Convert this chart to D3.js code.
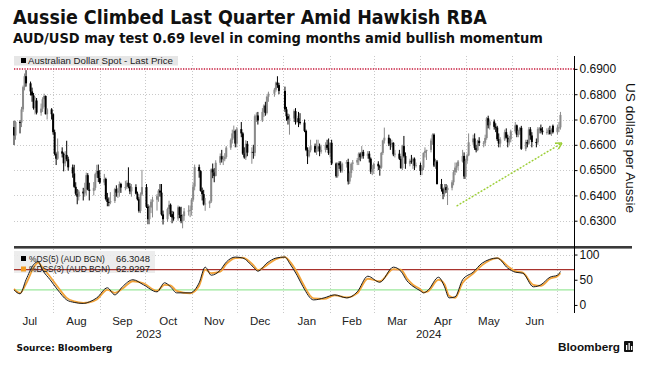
<!DOCTYPE html>
<html><head><meta charset="utf-8">
<script src="https://cdn.jsdelivr.net/npm/d3@7"></script>
<style>
body{margin:0;background:#fff;}
svg{display:block;font-family:"DejaVu Sans","Liberation Sans",Arial,sans-serif;}
</style></head><body>
<svg id="c" width="649" height="366"></svg>
<script>
// ---------------- DATA ----------------
const firstDay = "2023-07-06", lastDay = "2024-07-03";
const holidays = ["2023-12-25", "2024-01-01"];
const priceTitle = "Aussie Climbed Last Quarter Amid Hawkish RBA";
const priceSubtitle = "AUD/USD may test 0.69 level in coming months amid bullish momentum";
const opens = [
.6670,.6637,
.6690,.6688,.6740,.6828,.6871,
.6843,.6811,.6795,.6745,.6775,
.6727,.6743,.6780,.6793,.6721,
.6740,.6721,.6650,.6564,.6545,
.6574,.6565,.6527,.6560,.6543,
.6511,.6487,.6434,.6407,.6395,
.6415,.6408,.6424,.6480,.6423,
.6418,.6430,.6484,.6497,.6469,
.6451,.6465,.6386,.6374,.6372,
.6378,.6425,.6411,.6418,.6445,
.6431,.6433,.6450,.6435,.6416,
.6433,.6407,.6385,.6339,.6404,
.6433,.6356,.6306,.6352,.6375,
.6383,.6397,.6419,.6411,.6325,
.6306,.6346,.6363,.6326,.6313,
.6309,.6353,.6323,.6298,.6318,
.6337,.6340,.6343,.6383,.6435,
.6512,.6496,.6418,.6405,.6364,
.6368,.6376,.6503,.6491,.6477,
.6529,.6555,.6542,.6543,.6552,
.6589,.6619,.6645,.6655,.6605,
.6662,.6645,.6565,.6550,.6604,
.6569,.6572,.6568,.6713,.6716,
.6696,.6730,.6755,.6726,.6790,
.6802,.6818,.6846,.6836,
.6813,.6740,.6713,.6700,
.6704,.6733,.6690,.6705,.6690,
.6688,.6655,.6580,.6555,.6578,
.6595,.6572,.6584,.6594,.6573,
.6580,.6600,.6588,.6567,.6608,
.6526,.6476,.6527,.6519,.6497,
.6525,.6532,.6455,.6488,.6525,
.6530,.6540,.6565,.6551,.6572,
.6556,.6565,.6545,.6494,.6505,
.6525,.6515,.6510,.6568,.6617,
.6628,.6605,.6602,.6608,.6562,
.6565,.6545,.6508,.6595,.6556,
.6525,.6537,.6535,.6545,.6517,
.6520,.6497,.6510,.6568,.6575,
.6580,.6617,.6640,.6518,.6534,
.6445,.6425,.6406,.6432,.6421,
.6430,.6452,.6492,.6510,.6516,
.6534,.6556,.6475,.6537,.6558,
.6610,.6625,.6588,.6579,.6616,
.6607,.6608,.6627,.6705,.6677,
.6692,.6671,.6668,.6622,.6605,
.6621,.6650,.6628,.6610,.6622,
.6653,.6677,.6640,.6654,.6667,
.6584,.6611,.6605,.6661,.6637,
.6611,.6610,.6663,.6665,.6656,
.6650,.6651,.6658,.6643,.6675,
.6650,.6668,.6669];
const highs = [
.6695,.6695,
.6697,.6750,.6834,.6882,.6895,
.6850,.6826,.6805,.6790,.6785,
.6763,.6788,.6802,.6795,.6745,
.6745,.6724,.6660,.6570,.6625,
.6590,.6570,.6575,.6616,.6553,
.6522,.6521,.6452,.6425,.6422,
.6430,.6450,.6490,.6488,.6450,
.6453,.6490,.6521,.6522,.6500,
.6485,.6470,.6410,.6392,.6413,
.6430,.6440,.6430,.6455,.6450,
.6458,.6460,.6511,.6448,.6445,
.6444,.6415,.6393,.6412,.6501,
.6445,.6365,.6360,.6385,.6395,
.6405,.6425,.6445,.6445,.6340,
.6352,.6379,.6368,.6339,.6336,
.6360,.6356,.6355,.6325,.6350,
.6361,.6360,.6390,.6450,.6522,
.6522,.6500,.6431,.6422,.6390,
.6380,.6507,.6526,.6508,.6539,
.6566,.6580,.6557,.6567,.6595,
.6625,.6660,.6676,.6660,.6670,
.6690,.6650,.6590,.6618,.6615,
.6590,.6600,.6720,.6728,.6730,
.6745,.6760,.6770,.6795,.6810,
.6825,.6850,.6871,.6845,
.6830,.6750,.6723,.6720,
.6740,.6745,.6715,.6730,.6725,
.6700,.6660,.6590,.6590,.6620,
.6605,.6620,.6620,.6605,.6600,
.6610,.6620,.6625,.6610,.6620,
.6530,.6530,.6535,.6535,.6530,
.6540,.6545,.6495,.6530,.6540,
.6548,.6570,.6570,.6595,.6580,
.6575,.6575,.6550,.6520,.6530,
.6535,.6520,.6572,.6620,.6668,
.6640,.6625,.6620,.6610,.6580,
.6580,.6555,.6600,.6635,.6570,
.6545,.6560,.6550,.6550,.6530,
.6530,.6515,.6570,.6590,.6580,
.6625,.6645,.6645,.6545,.6540,
.6465,.6430,.6445,.6445,.6440,
.6460,.6500,.6530,.6530,.6540,
.6580,.6570,.6545,.6565,.6645,
.6640,.6645,.6600,.6620,.6630,
.6615,.6640,.6710,.6715,.6700,
.6700,.6685,.6675,.6645,.6630,
.6660,.6665,.6640,.6635,.6660,
.6690,.6680,.6660,.6670,.6675,
.6620,.6620,.6670,.6670,.6650,
.6625,.6670,.6670,.6680,.6670,
.6665,.6668,.6675,.6665,.6680,
.6680,.6690,.6730];
const lows = [
.6599,.6620,
.6645,.6670,.6730,.6815,.6830,
.6795,.6770,.6739,.6720,.6720,
.6715,.6730,.6750,.6720,.6700,
.6700,.6640,.6558,.6520,.6540,
.6550,.6495,.6515,.6535,.6498,
.6470,.6430,.6400,.6365,.6380,
.6380,.6395,.6400,.6420,.6380,
.6400,.6420,.6470,.6453,.6445,
.6440,.6380,.6357,.6357,.6365,
.6370,.6395,.6390,.6395,.6410,
.6420,.6425,.6428,.6405,.6395,
.6404,.6380,.6332,.6330,.6398,
.6350,.6286,.6286,.6330,.6313,
.6340,.6375,.6395,.6320,.6285,
.6295,.6320,.6315,.6290,.6300,
.6300,.6310,.6290,.6270,.6300,
.6320,.6314,.6320,.6375,.6420,
.6470,.6415,.6380,.6360,.6339,
.6350,.6370,.6468,.6452,.6475,
.6520,.6530,.6520,.6535,.6545,
.6580,.6605,.6625,.6590,.6590,
.6630,.6560,.6545,.6540,.6555,
.6525,.6545,.6555,.6690,.6680,
.6690,.6710,.6715,.6720,.6770,
.6790,.6810,.6825,.6800,
.6730,.6695,.6680,.6640,
.6690,.6680,.6685,.6670,.6680,
.6650,.6575,.6524,.6550,.6570,
.6568,.6560,.6575,.6555,.6565,
.6570,.6580,.6560,.6550,.6520,
.6470,.6470,.6505,.6490,.6490,
.6510,.6443,.6445,.6470,.6500,
.6520,.6520,.6535,.6545,.6545,
.6545,.6530,.6485,.6480,.6485,
.6500,.6478,.6505,.6560,.6605,
.6595,.6580,.6590,.6555,.6550,
.6540,.6505,.6500,.6550,.6505,
.6515,.6525,.6505,.6500,.6510,
.6480,.6480,.6500,.6550,.6540,
.6570,.6600,.6512,.6505,.6443,
.6415,.6385,.6395,.6410,.6362,
.6420,.6440,.6480,.6490,.6500,
.6530,.6465,.6465,.6525,.6555,
.6600,.6580,.6570,.6575,.6595,
.6590,.6595,.6620,.6665,.6660,
.6660,.6650,.6615,.6590,.6590,
.6615,.6625,.6590,.6600,.6610,
.6645,.6630,.6630,.6640,.6580,
.6575,.6590,.6600,.6620,.6590,
.6590,.6600,.6645,.6645,.6640,
.6640,.6640,.6640,.6635,.6645,
.6640,.6650,.6660];
const closes = [
.6637,.6690,
.6688,.6740,.6828,.6871,.6843,
.6811,.6795,.6745,.6775,.6727,
.6743,.6780,.6793,.6721,.6740,
.6721,.6650,.6564,.6545,.6574,
.6565,.6527,.6560,.6543,.6511,
.6487,.6434,.6407,.6395,.6415,
.6408,.6424,.6480,.6423,.6418,
.6430,.6484,.6497,.6469,.6451,
.6465,.6386,.6374,.6372,.6378,
.6425,.6411,.6418,.6445,.6431,
.6433,.6450,.6435,.6416,.6433,
.6407,.6385,.6339,.6404,.6433,
.6356,.6306,.6352,.6375,.6383,
.6397,.6419,.6411,.6325,.6306,
.6346,.6363,.6326,.6313,.6309,
.6353,.6323,.6298,.6318,.6337,
.6340,.6343,.6383,.6435,.6512,
.6496,.6418,.6405,.6364,.6368,
.6376,.6503,.6491,.6477,.6529,
.6555,.6542,.6543,.6552,.6589,
.6619,.6645,.6655,.6605,.6662,
.6645,.6565,.6550,.6604,.6569,
.6572,.6568,.6713,.6716,.6696,
.6730,.6755,.6726,.6790,.6802,
.6818,.6846,.6836,.6813,
.6740,.6713,.6700,.6704,
.6733,.6690,.6705,.6690,.6688,
.6655,.6580,.6555,.6578,.6595,
.6572,.6584,.6594,.6573,.6580,
.6600,.6588,.6567,.6608,.6526,
.6476,.6527,.6519,.6497,.6525,
.6532,.6455,.6488,.6525,.6530,
.6540,.6565,.6551,.6572,.6556,
.6565,.6545,.6494,.6505,.6525,
.6515,.6510,.6568,.6617,.6628,
.6605,.6602,.6608,.6562,.6565,
.6545,.6508,.6595,.6556,.6525,
.6537,.6535,.6545,.6517,.6520,
.6497,.6510,.6568,.6575,.6580,
.6617,.6640,.6518,.6534,.6445,
.6425,.6406,.6432,.6421,.6430,
.6452,.6492,.6510,.6516,.6534,
.6556,.6475,.6537,.6558,.6610,
.6625,.6588,.6579,.6616,.6607,
.6608,.6627,.6705,.6677,.6692,
.6671,.6668,.6622,.6605,.6621,
.6650,.6628,.6610,.6622,.6653,
.6677,.6640,.6654,.6667,.6584,
.6611,.6605,.6661,.6637,.6611,
.6610,.6663,.6665,.6656,.6650,
.6651,.6658,.6643,.6659,.6650,
.6668,.6669,.6718];

const stochDates = ["2023-07-06","2023-07-10","2023-07-14","2023-07-19","2023-07-22","2023-07-25","2023-07-30",
"2023-08-04","2023-08-10","2023-08-15","2023-08-21","2023-08-25","2023-08-30",
"2023-09-06","2023-09-11","2023-09-16","2023-09-23","2023-09-30",
"2023-10-09","2023-10-14","2023-10-18","2023-10-22","2023-10-31",
"2023-11-06","2023-11-10","2023-11-14","2023-11-20","2023-11-24","2023-11-30",
"2023-12-05","2023-12-12","2023-12-15","2023-12-21","2023-12-27",
"2024-01-02","2024-01-05","2024-01-10","2024-01-14","2024-01-21","2024-01-28",
"2024-02-04","2024-02-12","2024-02-19","2024-02-26",
"2024-03-05","2024-03-14","2024-03-19","2024-03-23","2024-03-27",
"2024-04-01","2024-04-03","2024-04-06","2024-04-13","2024-04-17","2024-04-20","2024-04-24","2024-04-29",
"2024-05-06","2024-05-12","2024-05-22","2024-05-29",
"2024-06-03","2024-06-08","2024-06-15","2024-06-20","2024-06-26",
"2024-07-01","2024-07-03"];
const dsValues = [30,22,50,80,86,69,50, 30,10,5,3,6,14, 34,20,36,50,40, 26,44,36,24,24,
 44,75,59,69,85,95, 93,75,67,83,93, 95,83,59,36,10,14, 20,14,26,57, 45,75,67,48,37,
 28,24,29,55,36,14,16,50, 65,83,93,73, 65,63,36,40,55, 59,66.3];
const dssValues = [32,24,42,74,84,74,56, 36,14,7,4,5,11, 30,24,32,47,43, 28,40,39,28,23,
 38,70,63,66,81,93, 94,79,69,79,91, 95,87,65,42,13,12, 19,15,23,52, 47,71,70,53,40,
 31,25,27,50,41,18,14,44, 62,79,93,77, 67,64,40,38,52, 57,62.9];
const dsLabel = "%DS(5) (AUD BGN)", dssLabel = "%DSS(3) (AUD BGN)";
const dsLast = "66.3048", dssLast = "62.9297";
const priceTicks = [0.63, 0.64, 0.65, 0.66, 0.67, 0.68, 0.69];
const stochTicks = [0, 50, 100];
const targetLevel = 0.69;
const overbought = 70, oversold = 30;
const monthLabels = ["Jul","Aug","Sep","Oct","Nov","Dec","Jan","Feb","Mar","Apr","May","Jun"];
const yearLabels = ["2023", "2024"];
const arrowStart = ["2024-04-25", 0.6358], arrowEnd = ["2024-07-04", 0.6607];

// ---------------- LAYOUT ----------------
const parse = d3.timeParse("%Y-%m-%d");
const svg = d3.select("#c");
const L = 14, R = 574;
const x = d3.scaleTime().domain([new Date(2023,6,6), new Date(2024,6,12)]).range([L, R]);
const y = d3.scaleLinear().domain([0.6204, 0.6951]).range([245, 56]);
const ys = d3.scaleLinear().domain([-14, 111]).range([312, 249]);

const holi = new Set(holidays);
const fmtD = d3.timeFormat("%Y-%m-%d");
const days = d3.timeDay.range(parse(firstDay), d3.timeDay.offset(parse(lastDay), 1))
  .filter(d => d.getDay() > 0 && d.getDay() < 6 && !holi.has(fmtD(d)));
const n = Math.min(days.length, opens.length, highs.length, lows.length, closes.length);
const candles = d3.range(n).map(i => ({d: days[i], o: opens[i], h: highs[i], l: lows[i], c: closes[i]}));

function fit(sel, w) {
  const node = sel.node();
  const len = node.getComputedTextLength();
  const fs = parseFloat(sel.attr("font-size"));
  if (len > 0) sel.attr("font-size", (fs * w / len).toFixed(2));
  return sel;
}
const NARROW = "'Liberation Sans', Arial, sans-serif";
const COND = "'DejaVu Sans Condensed', 'DejaVu Sans', sans-serif";

// Titles
fit(svg.append("text").attr("x", 13).attr("y", 24).attr("font-size", 19).attr("font-weight", "bold")
  .attr("font-family", COND).attr("fill", "#111").text(priceTitle), 474);
fit(svg.append("text").attr("x", 13).attr("y", 43).attr("font-size", 14).attr("font-weight", "bold")
  .attr("font-family", COND).attr("fill", "#111").text(priceSubtitle), 530);

// Grid: month boundaries
const months = d3.timeMonth.range(new Date(2023,7,1), new Date(2024,6,2));
const grid = svg.append("g").attr("stroke", "#c9c9c9").attr("stroke-dasharray", "1,2").attr("stroke-width", 1);
months.forEach(m => {
  const xx = Math.round(x(m)) + 0.5;
  grid.append("line").attr("x1", xx).attr("x2", xx).attr("y1", 56).attr("y2", 245);
  grid.append("line").attr("x1", xx).attr("x2", xx).attr("y1", 249).attr("y2", 313);
});
priceTicks.filter(t => t !== targetLevel).forEach(t => {
  const yy = Math.round(y(t)) + 0.5;
  grid.append("line").attr("x1", L).attr("x2", R).attr("y1", yy).attr("y2", yy);
});
grid.append("line").attr("x1", L).attr("x2", R).attr("y1", Math.round(ys(100)) + 0.5).attr("y2", Math.round(ys(100)) + 0.5);

// Target line 0.69
svg.append("line").attr("x1", L).attr("x2", R).attr("y1", y(targetLevel)).attr("y2", y(targetLevel))
  .attr("stroke", "#d4506a").attr("stroke-width", 2).attr("stroke-dasharray", "1.3,1.3");

// Candles
const cg = svg.append("g");
candles.forEach(k => {
  const xx = x(k.d);
  const up = k.c >= k.o;
  const col = up ? "#8a8a8a" : "#000";
  cg.append("line").attr("x1", xx).attr("x2", xx).attr("y1", y(k.h)).attr("y2", y(k.l))
    .attr("stroke", col).attr("stroke-width", 1);
  const top = y(Math.max(k.o, k.c)), bot = y(Math.min(k.o, k.c));
  cg.append("rect").attr("x", xx - 1).attr("width", 2).attr("y", top).attr("height", Math.max(1, bot - top))
    .attr("fill", col);
});

// Arrow annotation
const ax1 = x(parse(arrowStart[0])), ay1 = y(arrowStart[1]);
const ax2 = x(parse(arrowEnd[0])), ay2 = y(arrowEnd[1]);
const ag = svg.append("g").attr("stroke", "#9acd32").attr("stroke-width", 1.4).attr("fill", "none");
ag.append("line").attr("x1", ax1).attr("y1", ay1).attr("x2", ax2).attr("y2", ay2).attr("stroke-dasharray", "2,1.5");
const ang = Math.atan2(ay2 - ay1, ax2 - ax1);
[0.5, -0.5].forEach(da => {
  ag.append("line").attr("x1", ax2).attr("y1", ay2)
    .attr("x2", ax2 - 7 * Math.cos(ang + da)).attr("y2", ay2 - 7 * Math.sin(ang + da));
});

// Top legend
svg.append("rect").attr("x", L).attr("y", 56).attr("width", 164).attr("height", 9.5).attr("fill", "#e6e6e6");
svg.append("rect").attr("x", 21).attr("y", 58).attr("width", 5).attr("height", 5).attr("fill", "#000");
fit(svg.append("text").attr("x", 28).attr("y", 64).attr("font-size", 9.5).attr("fill", "#222").attr("font-family", NARROW)
  .text("Australian Dollar Spot - Last Price"), 145);

// Separator between panels
svg.append("rect").attr("x", L).attr("y", 246).attr("width", 632 - L).attr("height", 2.6).attr("fill", "#3a3a3a");

// Bottom legend box
svg.append("rect").attr("x", L).attr("y", 251).attr("width", 141).attr("height", 22).attr("fill", "#ebebeb").attr("opacity", 0.9);

// Overbought / oversold lines
svg.append("line").attr("x1", L).attr("x2", R).attr("y1", ys(overbought)).attr("y2", ys(overbought))
  .attr("stroke", "#a8322d").attr("stroke-width", 1.2);
svg.append("line").attr("x1", L).attr("x2", R).attr("y1", ys(oversold)).attr("y2", ys(oversold))
  .attr("stroke", "#9be89b").attr("stroke-width", 1.2);

// Stochastic lines
const sd = stochDates.map(parse);
const line = d3.line().x(d => x(d[0])).y(d => ys(d[1])).curve(d3.curveMonotoneX);
svg.append("path").attr("d", line(sd.map((d, i) => [d, dssValues[i]])))
  .attr("fill", "none").attr("stroke", "#f2a33a").attr("stroke-width", 1.8);
svg.append("path").attr("d", line(sd.map((d, i) => [d, dsValues[i]])))
  .attr("fill", "none").attr("stroke", "#1a1a1a").attr("stroke-width", 1);

// Bottom legend text
svg.append("rect").attr("x", 21).attr("y", 256).attr("width", 5).attr("height", 5).attr("fill", "#000");
svg.append("rect").attr("x", 21).attr("y", 266.5).attr("width", 5).attr("height", 5).attr("fill", "#f29a1f");
fit(svg.append("text").attr("x", 29).attr("y", 261.5).attr("font-size", 9.5).attr("fill", "#222").attr("font-family", NARROW).text(dsLabel), 76);
fit(svg.append("text").attr("x", 29).attr("y", 272).attr("font-size", 9.5).attr("fill", "#222").attr("font-family", NARROW).text(dssLabel), 81);
fit(svg.append("text").attr("x", 116).attr("y", 261.5).attr("font-size", 9.5).attr("fill", "#222").attr("font-family", NARROW).text(dsLast), 34);
fit(svg.append("text").attr("x", 116).attr("y", 272).attr("font-size", 9.5).attr("fill", "#222").attr("font-family", NARROW).text(dssLast), 34);

// Right axes
svg.append("line").attr("x1", R + 0.5).attr("x2", R + 0.5).attr("y1", 56).attr("y2", 313).attr("stroke", "#000");
const fmtP = d3.format(".4f");
const yAxisG = svg.append("g").attr("transform", `translate(${R + 0.5},0)`);
yAxisG.call(d3.axisRight(y).tickValues(priceTicks).tickFormat(fmtP).tickSize(3).tickPadding(2));
const sAxisG = svg.append("g").attr("transform", `translate(${R + 0.5},0)`);
sAxisG.call(d3.axisRight(ys).tickValues(stochTicks).tickSize(3).tickPadding(2));
[yAxisG, sAxisG].forEach(g => {
  g.select(".domain").remove();
  g.selectAll("text").attr("font-size", 12).attr("fill", "#111").attr("font-family", NARROW);
  g.selectAll("line").attr("stroke", "#000");
});

fit(svg.append("text").attr("transform", "translate(626,148) rotate(90)").attr("text-anchor", "middle")
  .attr("font-size", 14).attr("fill", "#111").attr("font-family", NARROW).text("US dollars per Aussie"), 130);

// Month and year labels
monthLabels.forEach((m, i) => {
  const s = new Date(2023, 6 + i, 1), e = new Date(2023, 7 + i, 1);
  svg.append("text").attr("x", (x(s) + x(e)) / 2).attr("y", 324.5).attr("text-anchor", "middle")
    .attr("font-size", 11.5).attr("font-family", NARROW).attr("fill", "#222").text(m);
});
const yb = x(new Date(2024, 0, 1));
svg.append("text").attr("x", (L + yb) / 2).attr("y", 337.5).attr("text-anchor", "middle").attr("font-size", 11.5)
  .attr("font-family", NARROW).attr("fill", "#222").text(yearLabels[0]);
svg.append("text").attr("x", (yb + R) / 2).attr("y", 337.5).attr("text-anchor", "middle").attr("font-size", 11.5)
  .attr("font-family", NARROW).attr("fill", "#222").text(yearLabels[1]);

// Source & logo
fit(svg.append("text").attr("x", 16.5).attr("y", 350.5).attr("font-size", 10).attr("font-weight", "bold").attr("fill", "#111")
  .text("Source: Bloomberg"), 96);
fit(svg.append("text").attr("x", 558).attr("y", 351).attr("font-size", 13).attr("fill", "#111").attr("font-family", NARROW)
  .attr("font-weight", "bold").text("Bloomberg"), 62);
svg.append("rect").attr("x", 624).attr("y", 341).attr("width", 9).attr("height", 11).attr("rx", 1).attr("fill", "#111");
svg.append("rect").attr("x", 626).attr("y", 345).attr("width", 1.3).attr("height", 5).attr("fill", "#fff");
svg.append("rect").attr("x", 628.5).attr("y", 343).attr("width", 1.3).attr("height", 7).attr("fill", "#fff");
svg.append("rect").attr("x", 631).attr("y", 346).attr("width", 1.3).attr("height", 4).attr("fill", "#fff");
</script>
</body></html>
